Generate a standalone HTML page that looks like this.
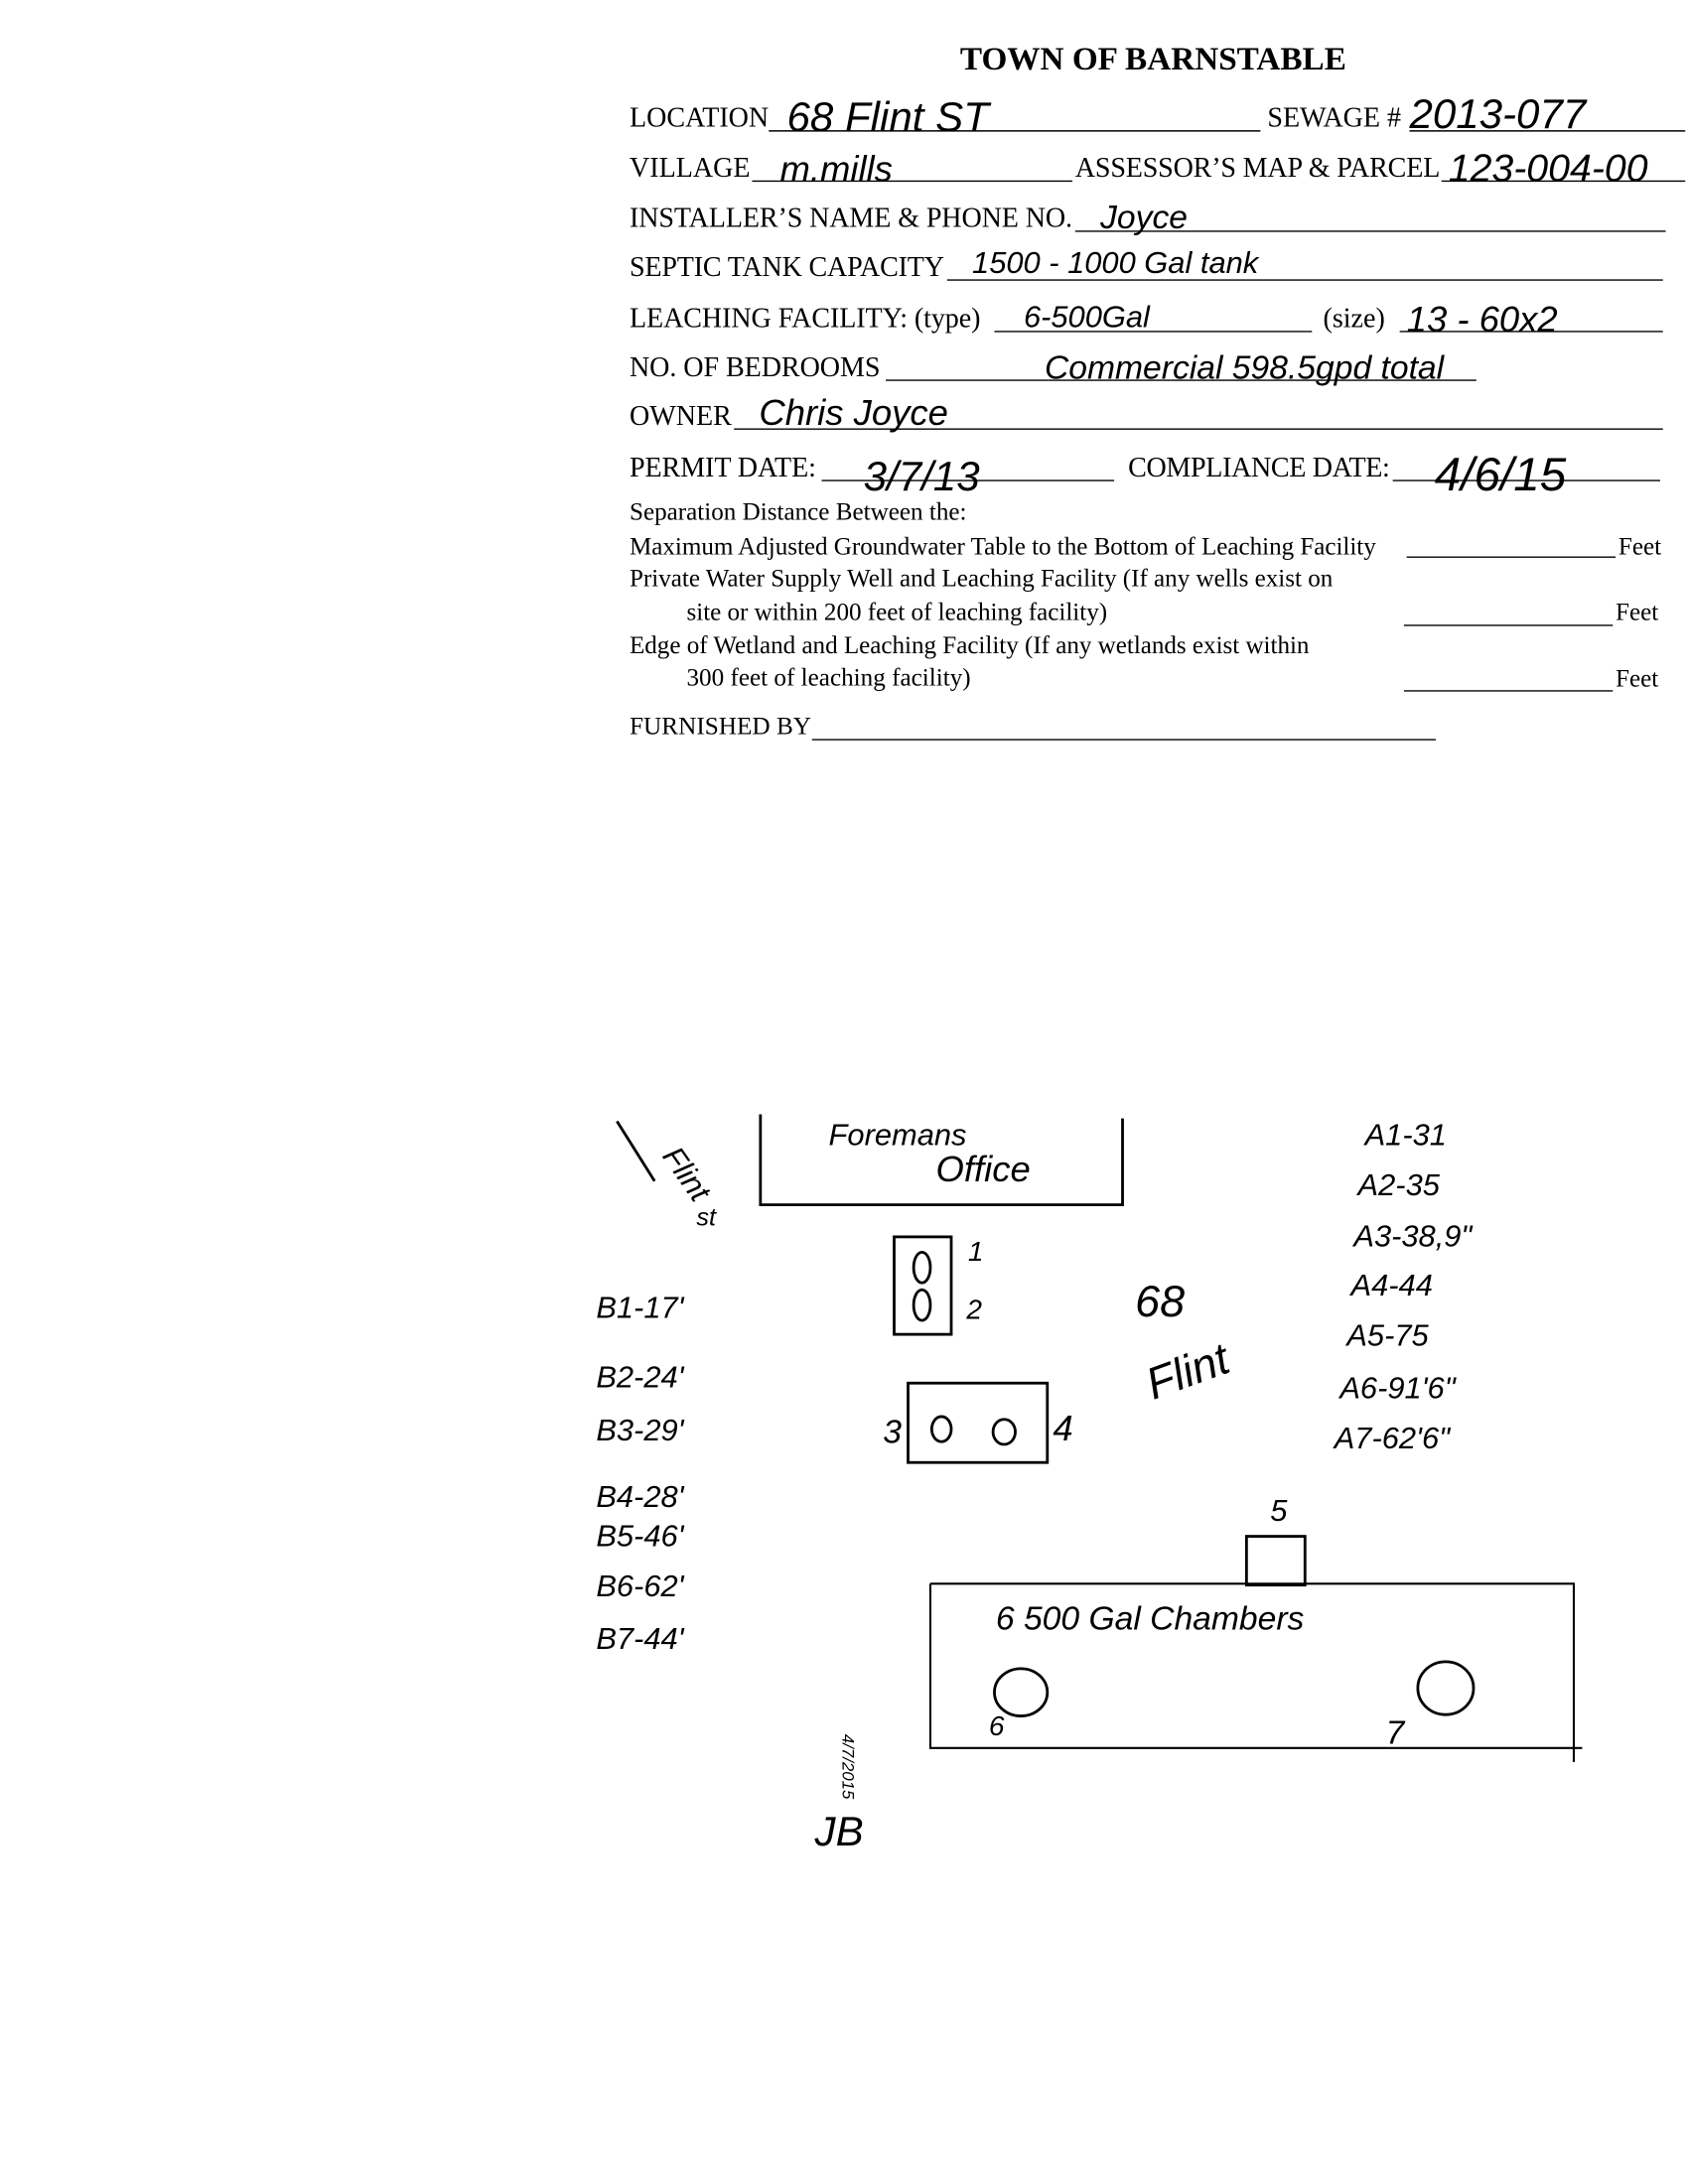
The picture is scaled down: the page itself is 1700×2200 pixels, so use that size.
<!DOCTYPE html>
<html><head><meta charset="utf-8"><style>
html,body{margin:0;padding:0;background:#fff;}
svg{display:block;}
.f{font-family:"Liberation Serif",serif;font-size:20px;fill:#000;}
.s{font-size:17.9px;}
.h{font-family:"Liberation Sans",sans-serif;font-style:italic;fill:#000;}
</style></head><body>
<svg width="1700" height="2200" viewBox="0 0 1212 1568" preserveAspectRatio="none" xmlns="http://www.w3.org/2000/svg">
<rect width="1212" height="1568" fill="#fff"/>
<text class="f" x="828" y="50" text-anchor="middle" style="font-size:23.7px;font-weight:bold">TOWN OF BARNSTABLE</text>
<g stroke="#000" stroke-width="1">
<line x1="552" y1="94" x2="905" y2="94"/><line x1="1012" y1="94" x2="1210" y2="94"/>
<line x1="540" y1="130" x2="770" y2="130"/><line x1="1035" y1="130" x2="1210" y2="130"/>
<line x1="772" y1="166" x2="1196" y2="166"/>
<line x1="680" y1="201" x2="1194" y2="201"/>
<line x1="714" y1="238" x2="942" y2="238"/><line x1="1005" y1="238" x2="1194" y2="238"/>
<line x1="636" y1="273" x2="1060" y2="273"/>
<line x1="527" y1="308" x2="1194" y2="308"/>
<line x1="590" y1="345" x2="800" y2="345"/><line x1="1000" y1="345" x2="1192" y2="345"/>
<line x1="1010" y1="400" x2="1160" y2="400"/>
<line x1="1008" y1="449" x2="1158" y2="449"/>
<line x1="1008" y1="496" x2="1158" y2="496"/>
<line x1="583" y1="531" x2="1031" y2="531"/>
</g>
<text class="f" x="452" y="91">LOCATION</text><text class="f" x="910" y="91" textLength="96">SEWAGE #</text>
<text class="f" x="452" y="127">VILLAGE</text><text class="f" x="772" y="127" textLength="262">ASSESSOR’S MAP &amp; PARCEL</text>
<text class="f" x="452" y="163" textLength="318">INSTALLER’S NAME &amp; PHONE NO.</text>
<text class="f" x="452" y="198" textLength="226">SEPTIC TANK CAPACITY</text>
<text class="f" x="452" y="235" textLength="252">LEACHING FACILITY: (type)</text><text class="f" x="950" y="235">(size)</text>
<text class="f" x="452" y="270" textLength="180">NO. OF BEDROOMS</text>
<text class="f" x="452" y="305">OWNER</text>
<text class="f" x="452" y="342" textLength="134">PERMIT DATE:</text><text class="f" x="810" y="342" textLength="188">COMPLIANCE DATE:</text>
<text class="f s" x="452" y="373">Separation Distance Between the:</text>
<text class="f s" x="452" y="398" textLength="536">Maximum Adjusted Groundwater Table to the Bottom of Leaching Facility</text><text class="f s" x="1162" y="398">Feet</text>
<text class="f s" x="452" y="421" textLength="505">Private Water Supply Well and Leaching Facility (If any wells exist on</text>
<text class="f s" x="493" y="445" textLength="302">site or within 200 feet of leaching facility)</text><text class="f s" x="1160" y="445">Feet</text>
<text class="f s" x="452" y="469" textLength="488">Edge of Wetland and Leaching Facility (If any wetlands exist within</text>
<text class="f s" x="493" y="492" textLength="204">300 feet of leaching facility)</text><text class="f s" x="1160" y="493">Feet</text>
<text class="f" x="452" y="527" style="font-size:18px">FURNISHED BY</text>
<text class="h" x="565" y="94" style="font-size:30px">68 Flint ST</text>
<text class="h" x="1012" y="92" style="font-size:30px">2013-077</text>
<text class="h" x="560" y="130" style="font-size:26px">m.mills</text>
<text class="h" x="1040" y="130" style="font-size:28px">123-004-00</text>
<text class="h" x="790" y="164" style="font-size:24px">Joyce</text>
<text class="h" x="698" y="196" style="font-size:22px">1500 - 1000 Gal tank</text>
<text class="h" x="735" y="235" style="font-size:22px">6-500Gal</text>
<text class="h" x="1010" y="238" style="font-size:26px">13 - 60x2</text>
<text class="h" x="750" y="272" style="font-size:24px">Commercial 598.5gpd total</text>
<text class="h" x="545" y="305" style="font-size:26px">Chris  Joyce</text>
<text class="h" x="620" y="352" style="font-size:30px">3/7/13</text>
<text class="h" x="1030" y="352" style="font-size:34px">4/6/15</text>
<g stroke="#000" stroke-width="2" fill="none">
<path d="M546 800 V865 H806 V803"/>
<rect x="642" y="888" width="41" height="70"/>
<rect x="652" y="993" width="100" height="57"/>
<rect x="895" y="1103" width="42" height="35"/>
<path d="M668 1137 H1130 V1265 M668 1137 V1255 H1136" stroke-width="1.5"/>
<path d="M443 805 L470 848"/>
<ellipse cx="733" cy="1215" rx="19" ry="17"/>
<ellipse cx="1038" cy="1212" rx="20" ry="19"/>
<ellipse cx="662" cy="910" rx="6" ry="11"/><ellipse cx="662" cy="937" rx="6" ry="11"/>
<ellipse cx="676" cy="1026" rx="7" ry="9"/><ellipse cx="721" cy="1028" rx="8" ry="9"/>
</g>
<text class="h" x="595" y="822" style="font-size:22px">Foremans</text>
<text class="h" x="672" y="848" style="font-size:26px">Office</text>
<text class="h" x="475" y="830" style="font-size:22px" transform="rotate(55 475 830)">Flint</text>
<text class="h" x="500" y="880" style="font-size:18px">st</text>
<text class="h" x="695" y="905" style="font-size:20px">1</text><text class="h" x="694" y="947" style="font-size:20px">2</text>
<text class="h" x="634" y="1036" style="font-size:24px">3</text><text class="h" x="756" y="1034" style="font-size:26px">4</text>
<text class="h" x="912" y="1092" style="font-size:22px">5</text>
<text class="h" x="710" y="1246" style="font-size:20px">6</text><text class="h" x="995" y="1252" style="font-size:24px">7</text>
<text class="h" x="715" y="1170" style="font-size:24px">6 500 Gal Chambers</text>
<text class="h" x="815" y="945" style="font-size:32px">68</text>
<text class="h" x="828" y="1005" style="font-size:32px" transform="rotate(-20 828 1005)">Flint</text>
<g style="font-size:22px">
<text x="980" y="822" class="h">A1-31</text>
<text x="975" y="858" class="h">A2-35</text>
<text x="972" y="895" class="h">A3-38,9"</text>
<text x="970" y="930" class="h">A4-44</text>
<text x="967" y="966" class="h">A5-75</text>
<text x="962" y="1004" class="h">A6-91'6"</text>
<text x="958" y="1040" class="h">A7-62'6"</text>
<text x="428" y="946" class="h">B1-17'</text>
<text x="428" y="996" class="h">B2-24'</text>
<text x="428" y="1034" class="h">B3-29'</text>
<text x="428" y="1082" class="h">B4-28'</text>
<text x="428" y="1110" class="h">B5-46'</text>
<text x="428" y="1146" class="h">B6-62'</text>
<text x="428" y="1184" class="h">B7-44'</text>
</g>
<text class="h" x="585" y="1325" style="font-size:30px">JB</text>
<text class="h" x="605" y="1245" style="font-size:12px" transform="rotate(90 605 1245)">4/7/2015</text>
</svg>
</body></html>
